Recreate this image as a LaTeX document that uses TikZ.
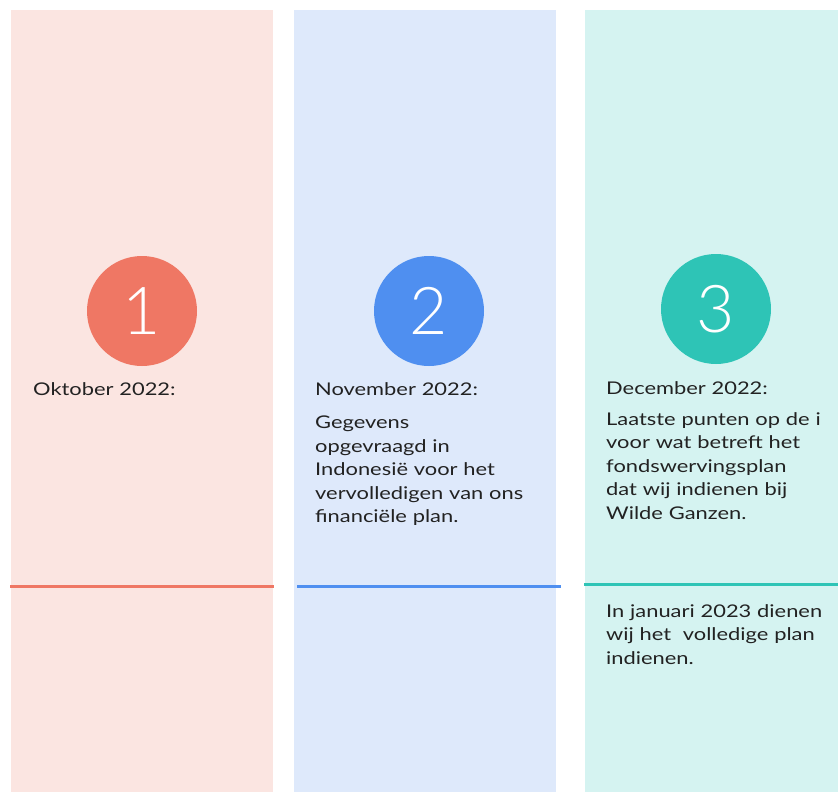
\documentclass[tikz,border=0pt]{standalone}
\usepackage{fontspec}
\setmainfont[FakeStretch=1.25]{Lato}
\newfontfamily\numfont{Lato Light}
\definecolor{pinkbg}{HTML}{FBE5E1}
\definecolor{redc}{HTML}{EF7764}
\definecolor{bluebg}{HTML}{DEE9FB}
\definecolor{bluec}{HTML}{4F8FF0}
\definecolor{tealbg}{HTML}{D5F3F1}
\definecolor{tealc}{HTML}{2EC4B6}
\definecolor{txt}{HTML}{222222}
\begin{document}
\begin{tikzpicture}[x=1pt,y=-1pt,
  numcirc/.style={circle,minimum size=110pt,inner sep=0pt,text=white,font=\numfont\fontsize{66}{66}\selectfont},
  label/.style={anchor=north west,inner sep=0pt,text=txt,align=left,text width=#1,font=\fontsize{17.5}{23.5}\selectfont},
  label/.default=240pt,
  sep/.style={line width=3pt}]
\useasboundingbox (0,0) rectangle (838,792);
\fill[pinkbg] (11,10) rectangle (273,792);
\fill[bluebg] (294,10) rectangle (556,792);
\fill[tealbg] (585,10) rectangle (838,792);
\node[numcirc,fill=redc] (c1) at (142,311) {1};
\node[numcirc,fill=bluec] (c2) at (429,311) {2};
\node[numcirc,fill=tealc] (c3) at (716,309) {3};
\node[label] (d1) at (33,382) {Oktober 2022:};
\node[label] (d2) at (315,382) {November 2022:};
\node[label] (d3) at (606,381) {December 2022:};
\node[label] (t2) at (315,416) {Gegevens\\opgevraagd in\\Indonesië voor het\\vervolledigen van ons\\financiële plan.};
\node[label] (t3) at (606,412) {Laatste punten op de i\\voor wat betreft het\\fondswervingsplan\\dat wij indienen bij\\Wilde Ganzen.};
\node[label] (t4) at (606,604) {In januari 2023 dienen\\wij het\ \ volledige plan\\indienen.};
\coordinate (l1a) at (10,586); \coordinate (l1b) at (274,586);
\coordinate (l2a) at (297,586); \coordinate (l2b) at (561,586);
\coordinate (l3a) at (584,584); \coordinate (l3b) at (838,584);
\draw[sep,redc] (l1a) -- (l1b);
\draw[sep,bluec] (l2a) -- (l2b);
\draw[sep,tealc] (l3a) -- (l3b);
\end{tikzpicture}
\end{document}
